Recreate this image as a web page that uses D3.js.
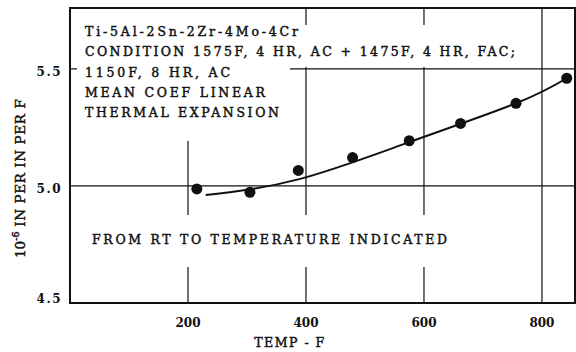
<!DOCTYPE html>
<html lang="en">
<head>
  <meta charset="UTF-8">
  <title>Thermal expansion</title>
  <script src="https://d3js.org/d3.v7.min.js"></script>
  <style>
    body { margin: 0; background: #fff; }
    text { font-family: "DejaVu Serif", serif; fill: #111; }
  </style>
</head>
<body>
<div class="canvas"></div>
<script>
  // measured points (temp F, coef 10^-6 in/in/F)
  const temps = [215, 305, 387, 479, 575, 662, 756, 842]
  const coefs = [4.987, 4.973, 5.066, 5.121, 5.193, 5.267, 5.353, 5.46]

  // faired curve
  const curveTemps = [230, 387, 575, 756, 842]
  const curveCoefs = [4.961, 5.028, 5.187, 5.353, 5.46]

  const xTicks = [200, 400, 600, 800]
  const yTicks = [4.5, 5.0, 5.5]

  const notes = [
    'Ti-5Al-2Sn-2Zr-4Mo-4Cr',
    'CONDITION 1575F, 4 HR, AC + 1475F, 4 HR, FAC;',
    '1150F, 8 HR, AC',
    'MEAN COEF LINEAR',
    'THERMAL EXPANSION'
  ]
  const noteWidths = [213, 430, 145, 180, 194]
  const footNote = 'FROM RT TO TEMPERATURE INDICATED'

  const W = 576, H = 352
  const margin = {top: 8, right: 1, bottom: 49, left: 70}
  const width = W - margin.left - margin.right
  const height = H - margin.top - margin.bottom

  const svg = d3.select('.canvas')
    .append('svg')
    .attr('width', W)
    .attr('height', H)

  const g = svg.append('g')
    .attr('transform', `translate(${margin.left}, ${margin.top})`)

  const x = d3.scaleLinear().domain([0, 856]).range([0, width])
  const y = d3.scaleLinear().domain([4.5, 5.76]).range([height, 0])

  // grid
  g.selectAll('.vgrid')
    .data(xTicks)
    .enter()
    .append('line')
    .attr('x1', d => x(d)).attr('x2', d => x(d))
    .attr('y1', 0).attr('y2', height)
    .attr('stroke', '#111')
    .attr('stroke-width', 1.2)

  g.selectAll('.hgrid')
    .data(yTicks.slice(1))
    .enter()
    .append('line')
    .attr('x1', 0).attr('x2', width)
    .attr('y1', d => y(d)).attr('y2', d => y(d))
    .attr('stroke', '#111')
    .attr('stroke-width', 1.2)

  // white boxes where the grid is broken by the lettering
  const masks = [
    [1, 1, 219, 132],
    [220, 17, 240, 42],
    [15, 207, 370, 52]
  ]
  g.selectAll('.mask')
    .data(masks)
    .enter()
    .append('rect')
    .attr('x', d => d[0]).attr('y', d => d[1])
    .attr('width', d => d[2]).attr('height', d => d[3])
    .attr('fill', '#fff')

  // small tick at 5.5 on the left edge
  g.append('line')
    .attr('x1', 0).attr('x2', 7)
    .attr('y1', y(5.5)).attr('y2', y(5.5))
    .attr('stroke', '#111')
    .attr('stroke-width', 1.2)

  // frame
  g.append('rect')
    .attr('width', width)
    .attr('height', height)
    .attr('fill', 'none')
    .attr('stroke', '#111')
    .attr('stroke-width', 2)

  // curve
  g.append('path')
    .datum(curveTemps.map((t, i) => [t, curveCoefs[i]]))
    .attr('fill', 'none')
    .attr('stroke', '#111')
    .attr('stroke-width', 2)
    .attr('d', d3.line().x(d => x(d[0])).y(d => y(d[1])).curve(d3.curveNatural))

  // points
  g.selectAll('.pt')
    .data(temps.map((t, i) => [t, coefs[i]]))
    .enter()
    .append('circle')
    .attr('cx', d => x(d[0]))
    .attr('cy', d => y(d[1]))
    .attr('r', 5.5)
    .attr('fill', '#111')

  // notes
  g.selectAll('.note')
    .data(notes)
    .enter()
    .append('text')
    .attr('x', 15)
    .attr('y', (d, i) => 28 + i * 20.3)
    .attr('font-size', 12.5)
    .attr('stroke', '#111')
    .attr('stroke-width', 0.45)
    .attr('textLength', (d, i) => noteWidths[i])
    .attr('lengthAdjust', 'spacing')
    .text(d => d)

  g.append('text')
    .attr('x', 22)
    .attr('y', 236)
    .attr('font-size', 12.5)
    .attr('stroke', '#111')
    .attr('stroke-width', 0.45)
    .attr('textLength', 355)
    .attr('lengthAdjust', 'spacing')
    .text(footNote)

  // tick labels
  g.selectAll('.xl')
    .data(xTicks)
    .enter()
    .append('text')
    .attr('x', d => x(d))
    .attr('y', height + 24)
    .attr('text-anchor', 'middle')
    .attr('font-size', 12)
    .attr('font-weight', 'bold')
    .text(d => d)

  g.selectAll('.yl')
    .data(yTicks)
    .enter()
    .append('text')
    .attr('x', -8)
    .attr('y', d => Math.min(y(d) + 7, height))
    .attr('text-anchor', 'end')
    .attr('font-size', 12)
    .attr('font-weight', 'bold')
    .attr('letter-spacing', 1.5)
    .text(d => d.toFixed(1))

  // axis titles
  g.append('text')
    .attr('x', 220)
    .attr('y', height + 44)
    .attr('text-anchor', 'middle')
    .attr('font-size', 12.5)
    .attr('stroke', '#111')
    .attr('stroke-width', 0.45)
    .attr('letter-spacing', 1.5)
    .text('TEMP - F')

  const yt = svg.append('text')
    .attr('transform', 'translate(25, 258) rotate(-90)')
    .attr('font-size', 13.5)
    .attr('stroke', '#111')
    .attr('stroke-width', 0.45)
  yt.append('tspan').text('10')
  yt.append('tspan').attr('dy', -6).attr('font-size', 9.5).text('-6')
  yt.append('tspan').attr('dy', 6).attr('letter-spacing', 0.6).text(' IN PER IN PER F')
</script>
</body>
</html>
